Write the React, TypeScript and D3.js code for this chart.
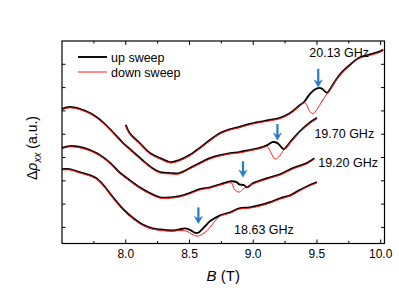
import React from 'react';
import * as d3 from 'd3';

// 20.13 GHz
const B_a_up = [8.00, 8.03, 8.11, 8.19, 8.27, 8.35, 8.42, 8.50, 8.58, 8.66, 8.74, 8.82, 8.89, 8.97, 9.09, 9.21, 9.29, 9.36, 9.40, 9.44, 9.48, 9.52, 9.54, 9.58, 9.60, 9.65, 9.70, 9.76, 9.83, 9.91, 9.99, 10.02];
const V_a_up = [5.40, 5.05, 4.62, 4.19, 3.97, 3.80, 3.89, 4.10, 4.41, 4.75, 5.05, 5.22, 5.31, 5.44, 5.57, 5.70, 5.91, 6.22, 6.39, 6.69, 6.91, 6.99, 6.95, 6.78, 6.91, 7.34, 7.68, 7.98, 8.28, 8.41, 8.54, 8.63];
const B_a_dn = [8.00, 8.03, 8.11, 8.19, 8.27, 8.35, 8.42, 8.50, 8.58, 8.66, 8.74, 8.82, 8.89, 8.97, 9.09, 9.21, 9.29, 9.36, 9.40, 9.42, 9.44, 9.47, 9.50, 9.54, 9.58, 9.60, 9.65, 9.70, 9.76, 9.83, 9.91, 9.99, 10.02];
const V_a_dn = [5.40, 5.05, 4.62, 4.19, 3.97, 3.80, 3.89, 4.10, 4.41, 4.75, 5.05, 5.22, 5.31, 5.44, 5.57, 5.70, 5.91, 6.22, 6.39, 6.30, 6.04, 5.91, 6.10, 6.45, 6.78, 6.91, 7.34, 7.68, 7.98, 8.28, 8.41, 8.54, 8.63];

// 19.70 GHz
const B_b_up = [7.50, 7.56, 7.64, 7.72, 7.77, 7.82, 7.90, 7.98, 8.06, 8.13, 8.21, 8.27, 8.35, 8.42, 8.50, 8.58, 8.66, 8.74, 8.82, 8.89, 8.97, 9.05, 9.11, 9.15, 9.19, 9.22, 9.24, 9.29, 9.36, 9.44, 9.50];
const V_b_up = [6.09, 6.17, 6.09, 5.91, 5.74, 5.52, 5.08, 4.62, 4.23, 3.89, 3.54, 3.37, 3.33, 3.33, 3.54, 3.76, 3.97, 4.10, 4.19, 4.23, 4.32, 4.41, 4.53, 4.66, 4.62, 4.45, 4.36, 4.66, 5.09, 5.48, 5.70];
const B_b_dn = [7.50, 7.56, 7.64, 7.72, 7.77, 7.82, 7.90, 7.98, 8.06, 8.13, 8.21, 8.27, 8.35, 8.42, 8.50, 8.58, 8.66, 8.74, 8.82, 8.89, 8.97, 9.05, 9.11, 9.14, 9.17, 9.20, 9.24, 9.29, 9.36, 9.44, 9.50];
const V_b_dn = [6.09, 6.17, 6.09, 5.91, 5.74, 5.52, 5.08, 4.62, 4.23, 3.89, 3.54, 3.37, 3.33, 3.33, 3.54, 3.76, 3.97, 4.10, 4.19, 4.23, 4.32, 4.41, 4.49, 4.23, 3.97, 4.06, 4.36, 4.66, 5.09, 5.48, 5.70];

// 19.20 GHz
const B_c_up = [7.50, 7.56, 7.64, 7.72, 7.80, 7.88, 7.95, 8.03, 8.11, 8.19, 8.27, 8.35, 8.42, 8.50, 8.58, 8.66, 8.74, 8.83, 8.87, 8.89, 8.93, 8.95, 9.00, 9.11, 9.21, 9.31, 9.42, 9.48];
const V_c_up = [4.41, 4.49, 4.45, 4.32, 4.10, 3.76, 3.37, 3.03, 2.72, 2.47, 2.29, 2.29, 2.34, 2.47, 2.64, 2.72, 2.85, 2.98, 2.94, 2.85, 2.81, 2.72, 2.90, 3.11, 3.28, 3.54, 3.76, 3.97];
const B_c_dn = [7.50, 7.56, 7.64, 7.72, 7.80, 7.88, 7.95, 8.03, 8.11, 8.19, 8.27, 8.35, 8.42, 8.50, 8.58, 8.66, 8.74, 8.83, 8.85, 8.89, 8.93, 8.96, 9.00, 9.11, 9.21, 9.31, 9.42, 9.48];
const V_c_dn = [4.41, 4.49, 4.45, 4.32, 4.10, 3.76, 3.37, 3.03, 2.72, 2.47, 2.29, 2.29, 2.34, 2.47, 2.64, 2.72, 2.85, 2.94, 2.68, 2.55, 2.72, 2.81, 2.90, 3.11, 3.28, 3.54, 3.76, 3.97];

// 18.63 GHz
const B_d_up = [7.50, 7.56, 7.64, 7.72, 7.77, 7.82, 7.90, 7.98, 8.06, 8.13, 8.21, 8.27, 8.37, 8.42, 8.46, 8.50, 8.54, 8.57, 8.62, 8.66, 8.74, 8.82, 8.89, 8.97, 9.05, 9.13, 9.21, 9.29, 9.36, 9.44, 9.50];
const V_d_up = [3.50, 3.50, 3.37, 3.24, 3.11, 2.85, 2.29, 1.78, 1.39, 1.13, 0.96, 0.91, 0.87, 0.91, 0.96, 0.91, 0.78, 0.78, 1.04, 1.26, 1.52, 1.65, 1.82, 1.86, 1.95, 2.08, 2.25, 2.38, 2.59, 2.81, 2.94];
const B_d_dn = [7.50, 7.56, 7.64, 7.72, 7.77, 7.82, 7.90, 7.98, 8.06, 8.13, 8.21, 8.27, 8.37, 8.42, 8.48, 8.52, 8.56, 8.60, 8.64, 8.68, 8.74, 8.82, 8.89, 8.97, 9.05, 9.13, 9.21, 9.29, 9.36, 9.44, 9.50];
const V_d_dn = [3.50, 3.50, 3.37, 3.24, 3.11, 2.85, 2.29, 1.78, 1.39, 1.13, 0.96, 0.91, 0.87, 0.91, 0.87, 0.74, 0.66, 0.74, 0.91, 1.17, 1.52, 1.65, 1.82, 1.86, 1.95, 2.08, 2.25, 2.38, 2.59, 2.81, 2.94];

const freqLabels = ['20.13 GHz', '19.70 GHz', '19.20 GHz', '18.63 GHz'];
const labelB = [9.44, 9.48, 9.51, 8.85];
const labelV = [8.33, 4.84, 3.59, 0.72];
const arrowB = [9.51, 9.19, 8.92, 8.57];
const arrowTopV = [7.81, 5.44, 3.84, 1.86];
const arrowTipV = [7.03, 4.75, 3.16, 1.17];

const xMajorTicks = [8.0, 8.5, 9.0, 9.5, 10.0];
const xMinorTicks = [7.75, 8.25, 8.75, 9.25, 9.75];
const yTicks = [1, 2, 3, 4, 5, 6, 7, 8];
const legendLabels = ['up sweep', 'down sweep'];

const FONT = '"Liberation Sans", Arial, Helvetica, sans-serif';

export default function App() {
  const W = 399, H = 299;
  const x = d3.scaleLinear().domain([7.5, 10.03]).range([62, 384.5]);
  const y = d3.scaleLinear().domain([0.31, 9.0]).range([243.5, 41]);
  const line = d3.line<[number, number]>()
    .x(d => x(d[0])).y(d => y(d[1]))
    .curve(d3.curveCatmullRom.alpha(0.5));
  const mk = (B: number[], V: number[]) => line(B.map((b, i) => [b, V[i]] as [number, number])) || '';

  const ups = [mk(B_a_up, V_a_up), mk(B_b_up, V_b_up), mk(B_c_up, V_c_up), mk(B_d_up, V_d_up)];
  const dns = [mk(B_a_dn, V_a_dn), mk(B_b_dn, V_b_dn), mk(B_c_dn, V_c_dn), mk(B_d_dn, V_d_dn)];

  const [x0, x1] = x.range();
  const [y0, y1] = y.range();
  const blue = '#2a7bc6';

  return (
    <svg width={W} height={H} style={{ position: 'absolute', left: 0, top: 0, background: '#fff' }} fontFamily={FONT}>
      <rect x={0} y={0} width={W} height={H} fill="#fff" />
      {/* curves */}
      {ups.map((d, i) => (
        <path key={'u' + i} d={d} fill="none" stroke="#000" strokeWidth={1.9} strokeLinejoin="round" />
      ))}
      {dns.map((d, i) => (
        <path key={'d' + i} d={d} fill="none" stroke="#ff1a1a" strokeWidth={1} strokeLinejoin="round" transform="translate(0,0.8)" />
      ))}
      {/* arrows */}
      {arrowB.map((b, i) => {
        const ax = x(b), ty = y(arrowTopV[i]), tip = y(arrowTipV[i]);
        return (
          <g key={'a' + i}>
            <line x1={ax} x2={ax} y1={ty} y2={tip - 3} stroke={blue} strokeWidth={2.2} />
            <path d={`M${ax - 4},${tip - 7} L${ax},${tip} L${ax + 4},${tip - 7} L${ax},${tip - 4.5} Z`} fill={blue} stroke={blue} strokeWidth={0.6} strokeLinejoin="round" />
          </g>
        );
      })}
      {/* frame */}
      <rect x={x0} y={y1} width={x1 - x0} height={y0 - y1} fill="none" stroke="#000" strokeWidth={1.2} />
      {/* x ticks */}
      {xMajorTicks.map(t => (
        <g key={'xm' + t}>
          <line x1={x(t)} x2={x(t)} y1={y0} y2={y0 - 4} stroke="#000" strokeWidth={1} />
          <line x1={x(t)} x2={x(t)} y1={y1} y2={y1 + 4} stroke="#000" strokeWidth={1} />
          <text x={x(t)} y={258} textAnchor="middle" fontSize={12} fill="#000">{t.toFixed(1)}</text>
        </g>
      ))}
      {xMinorTicks.map(t => (
        <g key={'xn' + t}>
          <line x1={x(t)} x2={x(t)} y1={y0} y2={y0 - 2.5} stroke="#000" strokeWidth={1} />
          <line x1={x(t)} x2={x(t)} y1={y1} y2={y1 + 2.5} stroke="#000" strokeWidth={1} />
        </g>
      ))}
      {/* y ticks */}
      {yTicks.map(t => (
        <g key={'y' + t}>
          <line x1={x0} x2={x0 + 3.5} y1={y(t)} y2={y(t)} stroke="#000" strokeWidth={1} />
          <line x1={x1} x2={x1 - 3.5} y1={y(t)} y2={y(t)} stroke="#000" strokeWidth={1} />
        </g>
      ))}
      {/* legend */}
      <line x1={78} x2={107} y1={57} y2={57} stroke="#000" strokeWidth={1.9} />
      <text x={111} y={61.5} fontSize={12.5} fill="#000">{legendLabels[0]}</text>
      <line x1={78} x2={107} y1={72} y2={72} stroke="#ff1a1a" strokeWidth={1} />
      <text x={111} y={76.5} fontSize={12.5} fill="#000">{legendLabels[1]}</text>
      {/* frequency labels */}
      {freqLabels.map((s, i) => (
        <text key={'f' + i} x={x(labelB[i])} y={y(labelV[i])} fontSize={12.5} fill="#000">{s}</text>
      ))}
      {/* axis titles */}
      <text x={(x0 + x1) / 2} y={281} textAnchor="middle" fontSize={15} fill="#000">
        <tspan fontStyle="italic">B</tspan> (T)
      </text>
      <text transform={`translate(37,148) rotate(-90)`} textAnchor="middle" fontSize={14} fill="#000">
        Δ<tspan fontStyle="italic">ρ</tspan>
        <tspan fontStyle="italic" fontSize={10} dy={4}>xx</tspan>
        <tspan dy={-4}> (a.u.)</tspan>
      </text>
    </svg>
  );
}
